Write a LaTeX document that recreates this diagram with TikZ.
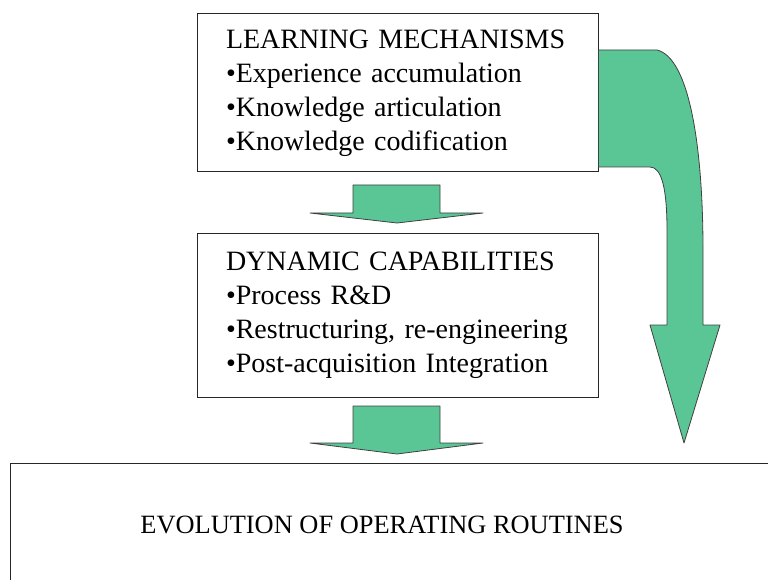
\documentclass[tikz,border=0pt]{standalone}
\usepackage{fontspec}
\setmainfont{Liberation Serif}
\definecolor{flowgreen}{HTML}{5AC696}
\tikzset{
  mechbox/.style={draw=black!85, line width=1pt, text width=343pt, inner xsep=29pt,
    align=left, font=\fontsize{28}{34}\selectfont},
  flowarrow/.style={fill=flowgreen, draw=black!75, line width=.8pt, line join=round}
}
\begin{document}
\begin{tikzpicture}[x=1pt, y=-1pt]
 \useasboundingbox (0,0) rectangle (768,580);
 \clip (0,0) rectangle (768,580);
 \node[mechbox, minimum height=158pt](learn) at (397.5,93)
   {LEARNING MECHANISMS\\ \textbullet Experience accumulation\\ \textbullet Knowledge articulation\\ \textbullet Knowledge codification};
 \node[mechbox, minimum height=164pt](dyn) at (397.5,315)
   {DYNAMIC CAPABILITIES\\ \textbullet Process R\&D\\ \textbullet Restructuring, re-engineering\\ \textbullet Post-acquisition Integration};
 \node[draw=black!85, line width=1pt, anchor=north west, minimum width=790pt, minimum height=140pt](evolbox) at (10,463) {};
 \node[font=\fontsize{26.4}{32}\selectfont](evol) at (382,525) {EVOLUTION OF OPERATING ROUTINES};
 % straight block arrows
 \foreach \top/\base/\tip in {185/213/223, 406/443/454}
 {
     \draw[flowarrow](353,\top)--(440,\top)--(440,\base)--(483,\base)--(397,\tip)
       --(310,\base)--(353,\base)--cycle;
 }
 % bent arrow from learning mechanisms down to routines
 \draw[flowarrow](learn.east|-0,50)--(657,50) .. controls (690,58) and (703,150) .. (703,250)
   --(703,325)--(720,325)--(684,443)--(650,325)--(667,325)--(667,230)
   .. controls (667,190) and (662,167) .. (650,167)--(learn.east|-0,167)--cycle;
\end{tikzpicture}
\end{document}
